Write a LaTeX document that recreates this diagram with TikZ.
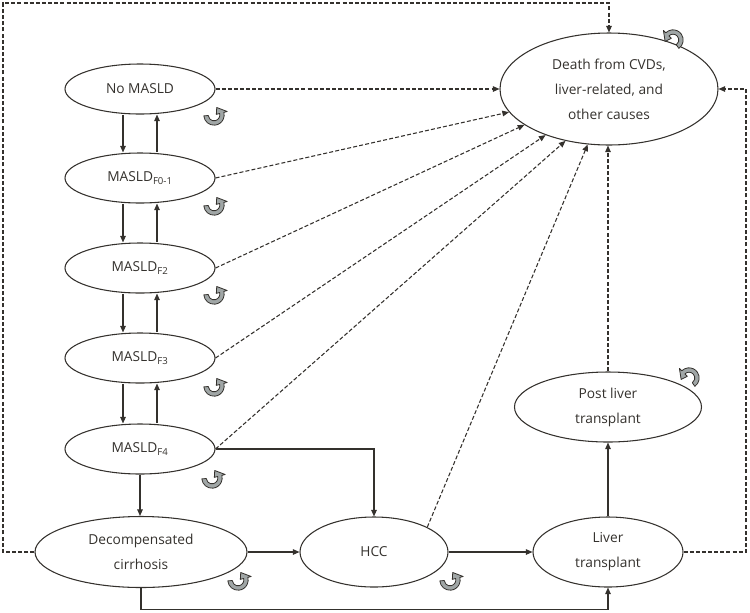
\documentclass[tikz,border=0pt]{standalone}
\usepackage{fontspec}
\setmainfont{Open Sans}
\usetikzlibrary{shapes.geometric,arrows.meta,calc}
\definecolor{ink}{RGB}{52,49,45}
\definecolor{curlfill}{RGB}{160,166,166}
\newcommand\curlarrow[4]{%
  \begin{scope}[shift={(#1,#2)}]
    \filldraw[curlst] (#3:10.2) arc[start angle=#3, end angle=#4, radius=10.2]
      -- (#4:13.6) -- ({#4-55}:8) -- (#4:2.4) -- (#4:5.8)
      arc[start angle=#4, end angle=#3, radius=5.8] -- cycle;
  \end{scope}}
\begin{document}
\begin{tikzpicture}[x=0.75pt,y=-0.75pt,
  state/.style={ellipse, draw=ink, line width=0.8pt, align=center, inner sep=0pt,
    text=ink, font=\fontsize{10.3}{18.75}\selectfont},
  sz/.style 2 args={minimum width={#1*0.75pt}, minimum height={#2*0.75pt}},
  solidarr/.style={draw=ink, line width=0.8pt, -{Triangle[length=5pt,width=4.2pt]}},
  dasharr/.style={draw=ink, line width=0.8pt, dash pattern=on 3pt off 1.6pt,
    -{Triangle[length=5pt,width=4.2pt]}},
  curlst/.style={fill=curlfill, draw=ink, line width=0.6pt, line join=round}]
\useasboundingbox (0,0) rectangle (750,612);

% nodes
\node[state, sz={150}{50}] (nomasld) at (140,89) {No MASLD};
\node[state, sz={150}{50}] (f01) at (140,178) {MASLD\textsubscript{F0-1}};
\node[state, sz={150}{50}] (f2) at (140,268) {MASLD\textsubscript{F2}};
\node[state, sz={150}{50}] (f3) at (140,358) {MASLD\textsubscript{F3}};
\node[state, sz={150}{50}] (f4) at (140,449) {MASLD\textsubscript{F4}};
\node[state, sz={212}{71}] (decomp) at (141,552) {Decompensated\\cirrhosis};
\node[state, sz={148}{70}] (hcc) at (374,552) {HCC};
\node[state, sz={150}{70}] (lt) at (608,552) {Liver\\transplant};
\node[state, sz={187}{70}] (post) at (608,407) {Post liver\\transplant};
\node[state, sz={218}{112}] (death) at (609,89) {Death from CVDs,\\liver-related, and\\other causes};

\coordinate (tl) at (3,3);
\coordinate (rt) at (746,552);

% vertical transitions between MASLD states
\foreach \a/\b in {nomasld/f01, f01/f2, f2/f3, f3/f4}{
  \draw[solidarr] ($(\a.south)+(-17,0)$) -- ($(\b.north)+(-17,0)$);
  \draw[solidarr] ($(\b.north)+(17,0)$) -- ($(\a.south)+(17,0)$);
}
\draw[solidarr] (f4.south) -- (f4.south |- decomp.north);
\draw[solidarr] (f4.east) -| (hcc.north);
\draw[solidarr] (decomp.east) -- (hcc.west);
\draw[solidarr] (hcc.east) -- (lt.west);
\draw[solidarr] (lt.north) -- (post.south);
\draw[solidarr] (decomp.south) -- ++(0,21) -| (lt.south);

% deaths
\draw[dasharr] (nomasld.east) -- (death.west);
\draw[dasharr] (f01.east) -- (death.193);
\draw[dasharr] (f2.east) -- (death.203);
\draw[dasharr] (f3.east) -- (death.216);
\draw[dasharr] (f4.east) -- (death.230);
\draw[dasharr] (hcc.25) -- (death.249);
\draw[dasharr] (post.north) -- (post.north |- death.south);
\draw[dasharr] (decomp.west) -| (tl) -| (death.north);
\draw[dasharr] (lt.east) -- (rt) |- (death.east);

% self loops
\curlarrow{214}{115}{175}{-15}
\curlarrow{214}{205}{175}{-15}
\curlarrow{214}{294}{175}{-15}
\curlarrow{214}{386}{175}{-15}
\curlarrow{212}{478}{175}{-15}
\curlarrow{238}{580}{175}{-15}
\curlarrow{450}{580}{175}{-15}
\curlarrow{673}{40}{55}{-135}
\curlarrow{689}{378}{55}{-135}
\end{tikzpicture}
\end{document}
